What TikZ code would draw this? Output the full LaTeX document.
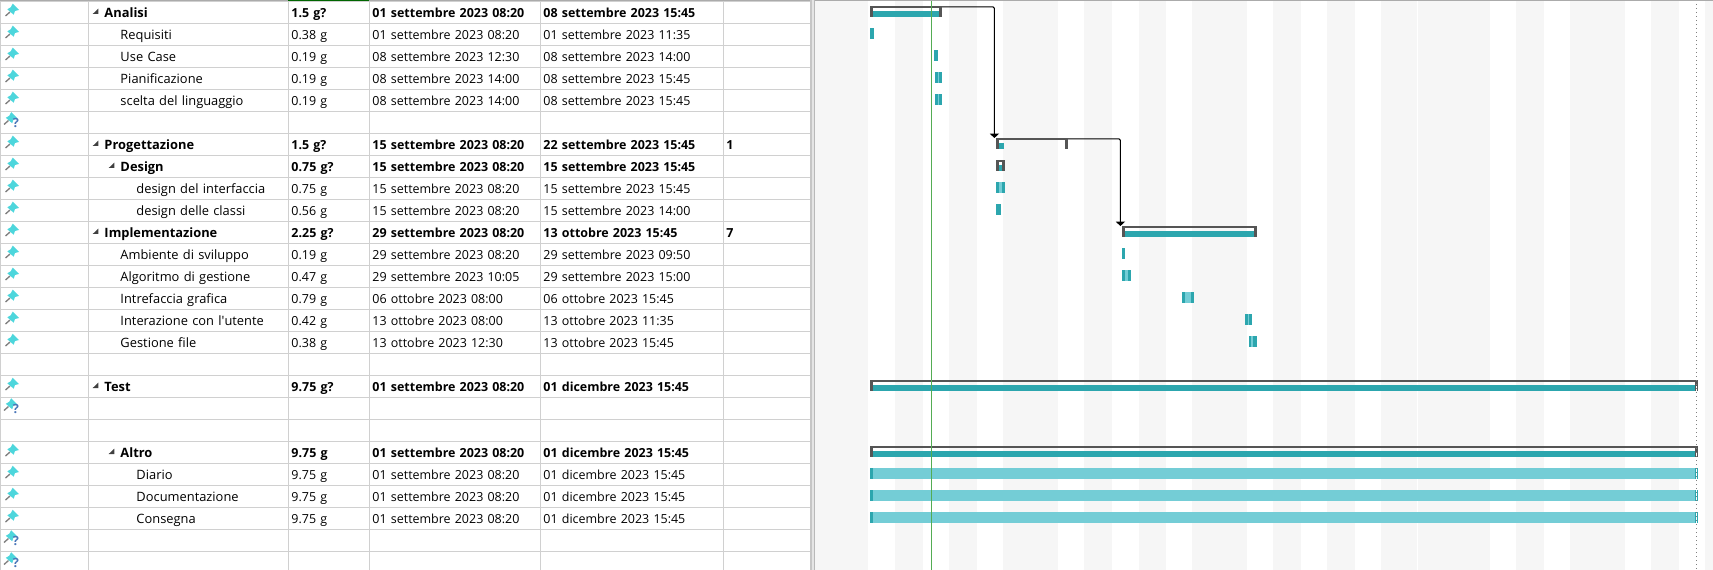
\documentclass[tikz,border=0pt]{standalone}
\usepackage{fontspec}
\setmainfont{Open Sans}
\usetikzlibrary{matrix,arrows.meta}
\definecolor{gridline}{HTML}{D0D0D0}
\definecolor{topline}{HTML}{ABABAB}
\definecolor{band}{HTML}{F6F6F6}
\definecolor{teal}{HTML}{2CA6AE}
\definecolor{lightteal}{HTML}{74CDD6}
\definecolor{summary}{HTML}{555555}
\definecolor{pincyan}{HTML}{4DD6DC}
\definecolor{askblue}{HTML}{4A76B8}
\newcommand{\inA}{\hspace*{12pt}}
\newcommand{\inB}{\hspace*{24pt}}
\tikzset{
  taskpin/.pic={
    \draw[gray,line width=1pt] (10,12) -- (5.5,16);
    \fill[pincyan] (12.7,3.7) -- (19,10) -- (15,11) -- (13.7,14.7) -- (7.3,9.3) -- (10.7,7.3) -- cycle;
  },
  boldrow/.style={nodes={execute at begin node=\bfseries}},
  sumbox/.style={inner sep=0, outer sep=0, minimum height=8.25pt, anchor=north west},
  linkarrow/.style={draw, line width=.75pt, rounded corners=1pt, -{Triangle[width=6.75pt,length=3.2pt]}}
}

\begin{document}
\begin{tikzpicture}[ampersand replacement=\&, x=0.75pt, y=-0.75pt]
\path[use as bounding box, clip] (0,0) rectangle (1713,570);
% bands of the chart
\foreach \xa/\xb in {815/868,895/923,949/977,1003/1058,1084/1112,1139/1166,1192/1247,1273/1301,1327/1355,1381/1417,1418/1490,1516/1544,1570/1625,1651/1679,1705/1713}
  \fill[band] (\xa,0) rectangle (\xb,570);
% the table
\matrix[matrix of nodes, nodes in empty cells, anchor=north west, inner sep=0, outer sep=0,
  row sep=-.75pt, column sep=-.75pt,
  nodes={draw=gridline, line width=.75pt, outer sep=0, inner ysep=0, inner xsep=2.25pt,
    minimum height=16.5pt, text height=8pt, text depth=0pt, anchor=center, align=left,
    font=\fontsize{9.35}{11}\selectfont},
  column 1/.style={nodes={text width=61.5pt}},
  column 2/.style={nodes={text width=126pt, inner xsep=12pt, font=\fontsize{9.65}{11}\selectfont}},
  column 3/.style={nodes={text width=56.25pt}},
  column 4/.style={nodes={text width=123.75pt}},
  column 5/.style={nodes={text width=132.75pt}},
  column 6/.style={nodes={text width=60.75pt}},
  row 1/.style={boldrow}, row 7/.style={boldrow}, row 8/.style={boldrow},
  row 11/.style={boldrow}, row 18/.style={boldrow}, row 21/.style={boldrow}] (plan) at (0,0.5)
  {
    \& Analisi \& 1.5 g? \& 01 settembre 2023 08:20 \& 08 settembre 2023 15:45 \& \\
    \& \inA Requisiti \& 0.38 g \& 01 settembre 2023 08:20 \& 01 settembre 2023 11:35 \& \\
    \& \inA Use Case \& 0.19 g \& 08 settembre 2023 12:30 \& 08 settembre 2023 14:00 \& \\
    \& \inA Pianificazione \& 0.19 g \& 08 settembre 2023 14:00 \& 08 settembre 2023 15:45 \& \\
    \& \inA scelta del linguaggio \& 0.19 g \& 08 settembre 2023 14:00 \& 08 settembre 2023 15:45 \& \\
    \& \& \& \& \& \\
    \& Progettazione \& 1.5 g? \& 15 settembre 2023 08:20 \& 22 settembre 2023 15:45 \& 1 \\
    \& \inA Design \& 0.75 g? \& 15 settembre 2023 08:20 \& 15 settembre 2023 15:45 \& \\
    \& \inB design del interfaccia \& 0.75 g \& 15 settembre 2023 08:20 \& 15 settembre 2023 15:45 \& \\
    \& \inB design delle classi \& 0.56 g \& 15 settembre 2023 08:20 \& 15 settembre 2023 14:00 \& \\
    \& Implementazione \& 2.25 g? \& 29 settembre 2023 08:20 \& 13 ottobre 2023 15:45 \& 7 \\
    \& \inA Ambiente di sviluppo \& 0.19 g \& 29 settembre 2023 08:20 \& 29 settembre 2023 09:50 \& \\
    \& \inA Algoritmo di gestione \& 0.47 g \& 29 settembre 2023 10:05 \& 29 settembre 2023 15:00 \& \\
    \& \inA Intrefaccia grafica \& 0.79 g \& 06 ottobre 2023 08:00 \& 06 ottobre 2023 15:45 \& \\
    \& \inA Interazione con l\textquotesingle utente \& 0.42 g \& 13 ottobre 2023 08:00 \& 13 ottobre 2023 11:35 \& \\
    \& \inA Gestione file \& 0.38 g \& 13 ottobre 2023 12:30 \& 13 ottobre 2023 15:45 \& \\
    \& \& \& \& \& \\
    \& Test \& 9.75 g? \& 01 settembre 2023 08:20 \& 01 dicembre 2023 15:45 \& \\
    \& \& \& \& \& \\
    \& \& \& \& \& \\
    \& \inA Altro \& 9.75 g \& 01 settembre 2023 08:20 \& 01 dicembre 2023 15:45 \& \\
    \& \inB Diario \& 9.75 g \& 01 settembre 2023 08:20 \& 01 dicembre 2023 15:45 \& \\
    \& \inB Documentazione \& 9.75 g \& 01 settembre 2023 08:20 \& 01 dicembre 2023 15:45 \& \\
    \& \inB Consegna \& 9.75 g \& 01 settembre 2023 08:20 \& 01 dicembre 2023 15:45 \& \\
    \& \& \& \& \& \\
    \& \& \& \& \& \\
  };
% top edge and splitter
\fill[topline] (0,0) rectangle (1713,1);
\fill[green!40!black] (288,0) rectangle (369,1);
\fill[gray!45] (810,0) rectangle (812,570);
\fill[gray!20] (812,0) rectangle (814,570);
\fill[gray!55] (814,0) rectangle (815,570);
% pins and outline triangles
\foreach \r in {0,1,2,3,4,6,7,8,9,10,11,12,13,14,15,17,20,21,22,23}
  \pic at (0,22*\r) {taskpin};
\foreach \r in {5,18,24,25} {
  \pic at (-1.5,22*\r-1.5) {taskpin};
  \node[askblue, inner sep=0, font=\fontsize{9.5}{10}\selectfont\bfseries] (ask\r) at (16,22*\r+13) {?};
}
\foreach \r/\d in {0/0,6/0,10/0,17/0,7/16,20/16}
  \fill[black!75] (98.3+\d,22*\r+8.7) -- (98.3+\d,22*\r+14) -- (92.7+\d,22*\r+14) -- cycle;
% task bars
\foreach \xa/\xb/\r/\la/\lb in {870/874/1/0/0,934/938/2/0/0,935/942/3/938/939,935/942/4/938/939,996/1005/8/999/1002,996/1001/9/0/0,1122/1125/11/0/0,1122/1131/12/1125/1128,1182/1194/13/1185/1191,1245/1252/14/1248/1249,1249/1257/15/1251/1253} {
  \fill[teal] (\xa,22*\r+6) rectangle (\xb,22*\r+17);
  \fill[lightteal] (\la,22*\r+6) rectangle (\lb,22*\r+17);
}
\foreach \r in {21,22,23} {
  \fill[teal] (870,22*\r+6) rectangle (873,22*\r+17);
  \fill[lightteal] (873,22*\r+6) rectangle (1695,22*\r+17);
  \fill[teal] (1695,22*\r+6) rectangle (1698,22*\r+17);
  \fill[white] (1696,22*\r+6) rectangle (1697,22*\r+17);
}
% summary bars
\foreach \name/\xa/\xb/\r/\ta/\tb in {analisi/870/942/0/873/939,progetto/996/1068/6/999/1004,design/996/1005/7/999/1002,impl/1122/1257/10/1125/1254,test/870/1698/17/873/1695,altro/870/1698/20/873/1695} {
  \node[sumbox, minimum width={(\xb-\xa)*0.75pt}] (\name) at (\xa,22*\r+6) {};
  \fill[summary] (\xa,22*\r+6) rectangle (\xb,22*\r+8);
  \fill[summary] (\xa,22*\r+6) rectangle (\xa+3,22*\r+17);
  \fill[summary] (\xb-3,22*\r+6) rectangle (\xb,22*\r+17);
  \fill[teal] (\ta,22*\r+11) rectangle (\tb,22*\r+17);
}
\fill[white] (1696,386) rectangle (1697,391);
\fill[white] (1696,452) rectangle (1697,457);
% links
\draw[linkarrow] ([yshift=-.75pt]analisi.north east) -| ([xshift=-1.2pt]progetto.north west);
\draw[linkarrow] ([yshift=-.75pt]progetto.north east) -| ([xshift=-1.2pt]impl.north west);
% today and project end
\draw[line width=.75pt, green!35!gray] (931.5,1) -- (931.5,570);
\draw[line width=.75pt, gray, dash pattern=on .75pt off 2.25pt] (1696.5,4) -- (1696.5,570);
\end{tikzpicture}
\end{document}
